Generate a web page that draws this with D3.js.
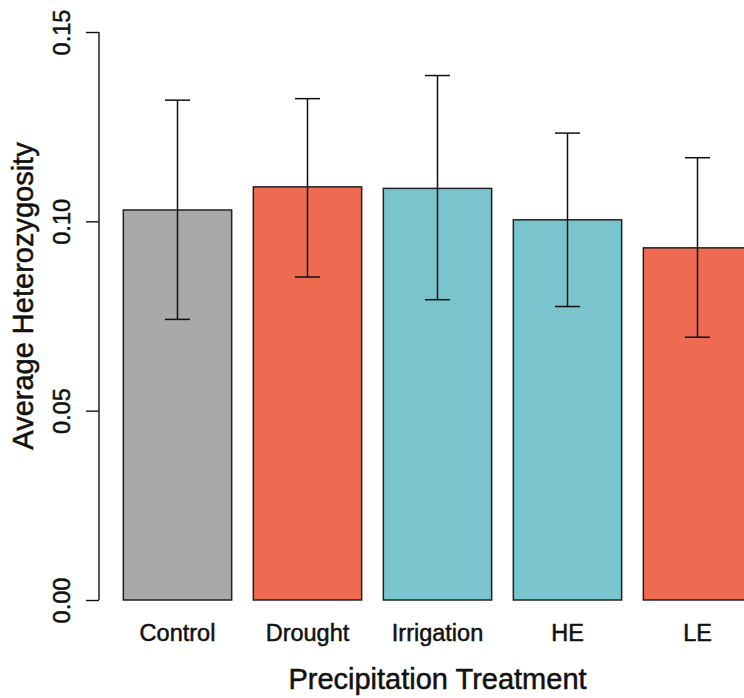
<!DOCTYPE html>
<html>
<head>
<meta charset="utf-8">
<script src="https://cdn.jsdelivr.net/npm/d3@7"></script>
<style>
  html, body { margin: 0; padding: 0; background: #fff; }
  svg { display: block; font-family: "Liberation Sans", Arial, sans-serif; }
  svg text { stroke: #111; stroke-width: 0.5px; }
</style>
</head>
<body>
<div id="chart"></div>
<script>
// values
const categories = ['Control', 'Drought', 'Irrigation', 'HE', 'LE'];
const means = [0.1030, 0.1091, 0.1087, 0.1004, 0.0930];
const upper = [0.1320, 0.1324, 0.1385, 0.1233, 0.1168];
const lower = [0.0741, 0.0853, 0.0793, 0.0775, 0.0694];
const barColors = ['#A9A9A9', '#EE6A50', '#7AC5CD', '#7AC5CD', '#EE6A50'];
const yTicks = [0.00, 0.05, 0.10, 0.15];

const W = 744, H = 698;

const svg = d3.select('#chart').append('svg')
  .attr('width', W)
  .attr('height', H);

const y = d3.scaleLinear().domain([0, 0.15]).range([600, 32]);
const x = d3.scaleBand()
  .domain(categories)
  .range([112.5, 762.5])
  .paddingInner(1 / 6)
  .paddingOuter(1 / 12);

// bars
svg.append('g')
  .selectAll('rect')
  .data(categories)
  .enter()
  .append('rect')
  .attr('x', (d) => x(d))
  .attr('y', (d, i) => y(means[i]))
  .attr('width', x.bandwidth())
  .attr('height', (d, i) => y(0) - y(means[i]))
  .attr('fill', (d, i) => barColors[i])
  .attr('stroke', '#222')
  .attr('stroke-width', 1.5);

// error bars
const cap = 12.5;
const err = svg.append('g').attr('stroke', '#111').attr('stroke-width', 1.5);
categories.forEach((c, i) => {
  const cx = x(c) + x.bandwidth() / 2;
  err.append('line')
    .attr('x1', cx).attr('x2', cx)
    .attr('y1', y(upper[i])).attr('y2', y(lower[i]));
  err.append('line')
    .attr('x1', cx - cap).attr('x2', cx + cap)
    .attr('y1', y(upper[i])).attr('y2', y(upper[i]));
  err.append('line')
    .attr('x1', cx - cap).attr('x2', cx + cap)
    .attr('y1', y(lower[i])).attr('y2', y(lower[i]));
});

// y axis
const yAxis = d3.axisLeft(y).tickValues(yTicks).tickSize(13).tickFormat(d3.format('.2f'));
const yg = svg.append('g').attr('transform', 'translate(99,0)').call(yAxis);
yg.select('.domain').attr('stroke', '#111').attr('stroke-width', 1.4).attr('d', `M0,${y(0.15)}V${y(0)}`);
yg.selectAll('.tick line').attr('stroke', '#111').attr('stroke-width', 1.4);
yg.selectAll('.tick text')
  .attr('x', null).attr('dy', null)
  .attr('text-anchor', 'middle')
  .attr('fill', '#111')
  .style('font-size', '23.5px')
  .attr('transform', 'translate(-29,0) rotate(-90)');

// x category labels (no axis line, as in the reference)
svg.append('g')
  .selectAll('text')
  .data(categories)
  .enter()
  .append('text')
  .attr('x', (d) => x(d) + x.bandwidth() / 2)
  .attr('y', 641)
  .attr('text-anchor', 'middle')
  .attr('fill', '#111')
  .style('font-size', '23.5px')
  .text((d) => d);

// axis titles
svg.append('text')
  .attr('x', 437.5)
  .attr('y', 689)
  .attr('text-anchor', 'middle')
  .attr('fill', '#111')
  .style('font-size', '29px')
  .text('Precipitation Treatment');

svg.append('text')
  .attr('transform', 'translate(33,296) rotate(-90)')
  .attr('text-anchor', 'middle')
  .attr('fill', '#111')
  .style('font-size', '29px')
  .text('Average Heterozygosity');
</script>
</body>
</html>
